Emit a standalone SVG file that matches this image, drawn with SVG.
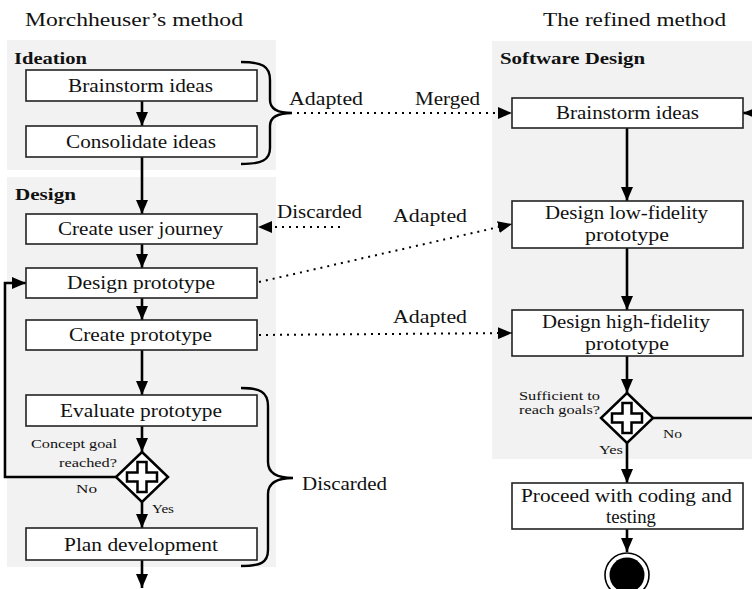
<svg xmlns="http://www.w3.org/2000/svg" width="752" height="589" viewBox="0 0 752 589">
<defs>
<marker id="ah" markerUnits="userSpaceOnUse" markerWidth="14" markerHeight="12" refX="14" refY="6" orient="auto"><path d="M0,0 L14,6 L0,12 z" fill="#000"/></marker>
</defs>
<style>
text{font-family:"Liberation Serif","Times New Roman",serif;fill:#111}
.t{font-size:18px}
.b{font-size:16px;font-weight:bold}
.s{font-size:13.5px}
.panel{fill:#f2f2f2}
.box{fill:#fff;stroke:#222;stroke-width:1.6}
.flow{fill:none;stroke:#000;stroke-width:2.6}
.dot{fill:none;stroke:#000;stroke-width:2;stroke-dasharray:2 5}
.brace{fill:none;stroke:#000;stroke-width:2.4}
.dia{fill:#fff;stroke:#000;stroke-width:2.5}
.cross{fill:#fff;stroke:#000;stroke-width:2.5}
</style>
<rect width="752" height="589" fill="#fff"/>
<text class="t" x="25" y="26" textLength="218" lengthAdjust="spacingAndGlyphs">Morchheuser’s method</text>
<text class="t" x="543" y="26" textLength="183" lengthAdjust="spacingAndGlyphs">The refined method</text>
<g id="panels">
<rect class="panel" x="7" y="40" width="269" height="130"/>
<rect class="panel" x="7" y="177" width="269" height="390"/>
<rect class="panel" x="492" y="41" width="260" height="418"/>
<text class="b" x="14" y="64" textLength="73" lengthAdjust="spacingAndGlyphs">Ideation</text>
<text class="b" x="15" y="200" textLength="61" lengthAdjust="spacingAndGlyphs">Design</text>
<text class="b" x="500" y="64" textLength="145" lengthAdjust="spacingAndGlyphs">Software Design</text>
</g>
<g id="connectors">
<line class="flow" x1="142" y1="101" x2="142" y2="126" marker-end="url(#ah)"/>
<line class="flow" x1="142" y1="157" x2="142" y2="214" marker-end="url(#ah)"/>
<line class="flow" x1="142" y1="244" x2="142" y2="268" marker-end="url(#ah)"/>
<line class="flow" x1="142" y1="298" x2="142" y2="320" marker-end="url(#ah)"/>
<line class="flow" x1="142" y1="350" x2="142" y2="395" marker-end="url(#ah)"/>
<line class="flow" x1="142" y1="426" x2="142" y2="452" marker-end="url(#ah)"/>
<line class="flow" x1="142" y1="502" x2="142" y2="528" marker-end="url(#ah)"/>
<line class="flow" x1="142" y1="560" x2="142" y2="588" marker-end="url(#ah)"/>
<polyline class="flow" points="116,477 5,477 5,283 26,283" marker-end="url(#ah)"/>
<line class="flow" x1="627" y1="128" x2="627" y2="201" marker-end="url(#ah)"/>
<line class="flow" x1="627" y1="248" x2="627" y2="310" marker-end="url(#ah)"/>
<line class="flow" x1="627" y1="356" x2="627" y2="393" marker-end="url(#ah)"/>
<line class="flow" x1="627" y1="443" x2="627" y2="483" marker-end="url(#ah)"/>
<line class="flow" x1="627" y1="529" x2="627" y2="552" marker-end="url(#ah)"/>
<polyline class="flow" points="652,418 760,418"/>
<line class="flow" x1="770" y1="113" x2="743" y2="113" marker-end="url(#ah)"/>
<path class="brace" d="M241,62 C262,62 270,66 270,80 L270,100 C270,109 278,113 292,113 C278,113 270,117 270,126 L270,148 C270,160 262,164 241,164"/>
<path class="brace" d="M241,388 C260,388 268,392 268,406 L268,462 C268,473 277,478 293,478 C277,478 268,483 268,494 L268,550 C268,563 260,566 241,566"/>
<line class="dot" x1="297" y1="113" x2="512" y2="113" marker-end="url(#ah)"/>
<line class="dot" x1="340" y1="227" x2="258" y2="227" marker-end="url(#ah)"/>
<line class="dot" x1="259" y1="282" x2="512" y2="224" marker-end="url(#ah)"/>
<line class="dot" x1="259" y1="335" x2="512" y2="333" marker-end="url(#ah)"/>
<text class="t" x="289" y="105" textLength="74" lengthAdjust="spacingAndGlyphs">Adapted</text>
<text class="t" x="415" y="105" textLength="65" lengthAdjust="spacingAndGlyphs">Merged</text>
<text class="t" x="277" y="218" textLength="85" lengthAdjust="spacingAndGlyphs">Discarded</text>
<text class="t" x="393" y="222" textLength="74" lengthAdjust="spacingAndGlyphs">Adapted</text>
<text class="t" x="393" y="323" textLength="74" lengthAdjust="spacingAndGlyphs">Adapted</text>
<text class="t" x="302" y="490" textLength="85" lengthAdjust="spacingAndGlyphs">Discarded</text>
<text class="s" x="76" y="493" textLength="21" lengthAdjust="spacingAndGlyphs">No</text>
<text class="s" x="152" y="513" textLength="22" lengthAdjust="spacingAndGlyphs">Yes</text>
<text class="s" x="663" y="438" textLength="19" lengthAdjust="spacingAndGlyphs">No</text>
<text class="s" x="599" y="454" textLength="24" lengthAdjust="spacingAndGlyphs">Yes</text>
</g>
<g id="n-brainstorm-l"><rect class="box" x="26" y="70" width="231" height="31"/><text class="t" x="68" y="92" textLength="145" lengthAdjust="spacingAndGlyphs">Brainstorm ideas</text></g>
<g id="n-consolidate"><rect class="box" x="26" y="126" width="231" height="31"/><text class="t" x="66" y="148" textLength="150" lengthAdjust="spacingAndGlyphs">Consolidate ideas</text></g>
<g id="n-journey"><rect class="box" x="26" y="214" width="231" height="30"/><text class="t" x="58" y="235" textLength="165" lengthAdjust="spacingAndGlyphs">Create user journey</text></g>
<g id="n-designproto"><rect class="box" x="26" y="268" width="231" height="30"/><text class="t" x="67" y="289" textLength="148" lengthAdjust="spacingAndGlyphs">Design prototype</text></g>
<g id="n-createproto"><rect class="box" x="26" y="320" width="231" height="30"/><text class="t" x="69" y="341" textLength="143" lengthAdjust="spacingAndGlyphs">Create prototype</text></g>
<g id="n-evaluate"><rect class="box" x="26" y="395" width="231" height="31"/><text class="t" x="60" y="417" textLength="162" lengthAdjust="spacingAndGlyphs">Evaluate prototype</text></g>
<g id="n-decision-l">
<polygon class="dia" points="142,452 168,477 142,502 116,477"/>
<polygon class="cross" points="137.5,462 146.5,462 146.5,472.5 157,472.5 157,481.5 146.5,481.5 146.5,492 137.5,492 137.5,481.5 127,481.5 127,472.5 137.5,472.5"/>
<text class="s" x="31" y="448" textLength="86" lengthAdjust="spacingAndGlyphs">Concept goal</text>
<text class="s" x="59" y="467" textLength="58" lengthAdjust="spacingAndGlyphs">reached?</text>
</g>
<g id="n-plan"><rect class="box" x="26" y="528" width="231" height="32"/><text class="t" x="64" y="551" textLength="154" lengthAdjust="spacingAndGlyphs">Plan development</text></g>
<g id="n-brainstorm-r"><rect class="box" x="512" y="98" width="231" height="30"/><text class="t" x="556" y="119" textLength="143" lengthAdjust="spacingAndGlyphs">Brainstorm ideas</text></g>
<g id="n-lowfi"><rect class="box" x="512" y="201" width="231" height="47"/><text class="t" x="545" y="219" textLength="163" lengthAdjust="spacingAndGlyphs">Design low-fidelity</text><text class="t" x="585" y="241" textLength="84" lengthAdjust="spacingAndGlyphs">prototype</text></g>
<g id="n-hifi"><rect class="box" x="512" y="310" width="231" height="46"/><text class="t" x="542" y="328" textLength="168" lengthAdjust="spacingAndGlyphs">Design high-fidelity</text><text class="t" x="585" y="350" textLength="84" lengthAdjust="spacingAndGlyphs">prototype</text></g>
<g id="n-decision-r">
<polygon class="dia" points="627,393 653,418 627,443 601,418"/>
<polygon class="cross" points="622.5,403 631.5,403 631.5,413.5 642,413.5 642,422.5 631.5,422.5 631.5,433 622.5,433 622.5,422.5 612,422.5 612,413.5 622.5,413.5"/>
<text class="s" x="519" y="400" textLength="81" lengthAdjust="spacingAndGlyphs">Sufficient  to</text>
<text class="s" x="519" y="414" textLength="81" lengthAdjust="spacingAndGlyphs">reach goals?</text>
</g>
<g id="n-proceed"><rect class="box" x="512" y="483" width="231" height="46"/><text class="t" x="521" y="502" textLength="211" lengthAdjust="spacingAndGlyphs">Proceed with coding and</text><text class="t" x="606" y="523" textLength="50" lengthAdjust="spacingAndGlyphs">testing</text></g>
<g id="n-end"><circle cx="627" cy="575" r="22" fill="#fff" stroke="#000" stroke-width="1.6"/><circle cx="627" cy="575" r="17.5" fill="#000"/></g>
</svg>
